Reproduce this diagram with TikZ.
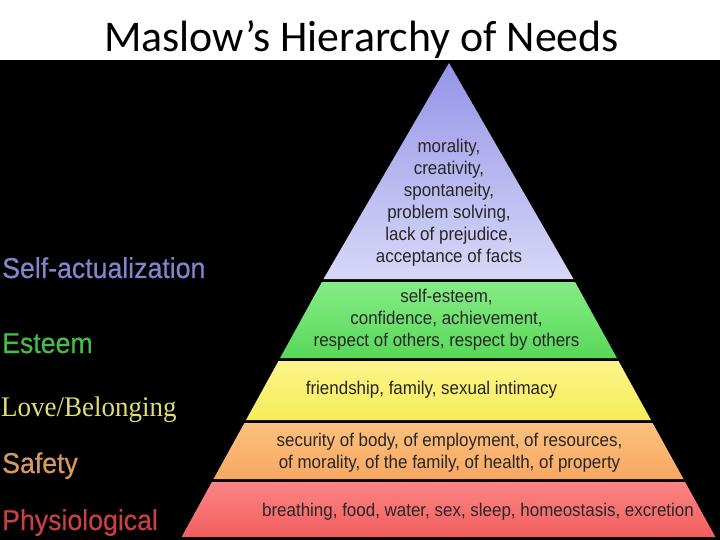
\documentclass[tikz,border=0pt]{standalone}
\usepackage{fontspec}
\setmainfont{Liberation Sans}
\newfontfamily\titlefont{Carlito}
\newfontfamily\needfont[FakeStretch=0.92]{Liberation Sans}
\newfontfamily\levelfont[FakeStretch=0.93,FakeBold=0.5]{Liberation Sans}
\newfontfamily\loveserif[FakeStretch=0.95]{Liberation Serif}
\definecolor{bluetop}{HTML}{9494E8}
\definecolor{bluebot}{HTML}{D8D8F8}
\definecolor{greentop}{HTML}{86EC86}
\definecolor{greenbot}{HTML}{58D858}
\definecolor{yellowtop}{HTML}{FDF58C}
\definecolor{yellowbot}{HTML}{F6EC58}
\definecolor{orangetop}{HTML}{FCC07E}
\definecolor{orangebot}{HTML}{F8A862}
\definecolor{redtop}{HTML}{FC8585}
\definecolor{redbot}{HTML}{F25E5E}
\definecolor{needtext}{HTML}{262626}
\definecolor{selfcol}{HTML}{8484CC}
\definecolor{esteemcol}{HTML}{46BE46}
\definecolor{lovecol}{HTML}{DEDE74}
\definecolor{safetycol}{HTML}{D69A5C}
\definecolor{physcol}{HTML}{C84040}
\begin{document}
\begin{tikzpicture}[x=1bp,y=-1bp,
    needs/.style={align=center,text=needtext,inner sep=0pt,
        font=\needfont\fontsize{18.5}{22}\selectfont},
    level/.style={anchor=base west,inner sep=0pt,
        font=\levelfont\fontsize{28.8}{32}\selectfont}]
    \useasboundingbox (0,0) rectangle (720,540);
    %Background
    \fill[white] (0,0) rectangle (720,60);
    \fill[black] (0,60) rectangle (720,540);
    \node[anchor=base,inner sep=0pt,font=\titlefont\fontsize{44}{50}\selectfont] (title) at (361.5,52) {Maslow’s Hierarchy of Needs};
    %Self-actualization
    \shade[top color=bluetop,bottom color=bluebot] (449,63) -- (573.5,279) -- (323.5,279) -- cycle;
    \node[needs] (selftext) at (449,203) {morality,\\creativity,\\spontaneity,\\problem solving,\\lack of prejudice,\\acceptance of facts};
    %Esteem
    \shade[top color=greentop,bottom color=greenbot] (321.9,282) -- (575.1,282) -- (616.9,358) -- (280.1,358) -- cycle;
    \node[needs] (esteemtext) at (446.5,320) {self-esteem,\\confidence, achievement,\\respect of others, respect by others};
    %Love/Belonging
    \shade[top color=yellowtop,bottom color=yellowbot] (278.5,361) -- (618.5,361) -- (651,420) -- (246,420) -- cycle;
    \node[needs] (lovetext) at (431.5,389.5) {friendship, family, sexual intimacy};
    %Safety
    \shade[top color=orangetop,bottom color=orangebot] (244.4,423) -- (652.6,423) -- (683.5,479) -- (213.5,479) -- cycle;
    \node[needs] (safetytext) at (449.5,452.5) {security of body, of employment, of resources,\\of morality, of the family, of health, of property};
    %Physiological
    \shade[top color=redtop,bottom color=redbot] (211.9,482) -- (685.1,482) -- (715.4,537) -- (181.6,537) -- cycle;
    \node[needs] (phystext) at (478,511.5) {breathing, food, water, sex, sleep, homeostasis, excretion};
    %Level names
    \node[level,text=selfcol] (selflabel) at (2,278) {Self-actualization};
    \node[level,text=esteemcol] (esteemlabel) at (2,353) {Esteem};
    \node[level,text=lovecol,font=\loveserif\fontsize{28.5}{32}\selectfont] (lovelabel) at (1,416) {Love/Belonging};
    \node[level,text=safetycol] (safetylabel) at (2,473) {Safety};
    \node[level,text=physcol] (physlabel) at (2,530) {Physiological};
\end{tikzpicture}
\end{document}
